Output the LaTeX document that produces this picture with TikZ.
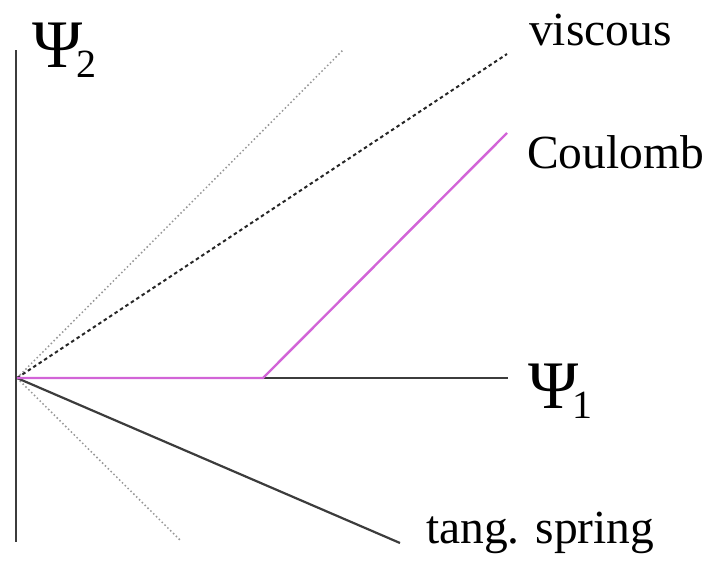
\documentclass[tikz,border=0pt]{standalone}
\usepackage{fontspec}
\setmainfont{Liberation Serif}
\definecolor{coul}{RGB}{210,100,215}
\definecolor{axisgray}{RGB}{60,60,60}
\definecolor{dotgray}{RGB}{150,150,150}
\tikzset{
  axisline/.style={draw=axisgray, line width=2.2pt},
  coulline/.style={draw=coul, line width=2.4pt},
  viscline/.style={draw=black!85, line width=2pt, dash pattern=on 3.5pt off 3pt},
  faintline/.style={draw=dotgray, line width=1.5pt, dash pattern=on 1.5pt off 2.5pt},
  lbl/.style={inner sep=0pt, anchor=base west, font=\fontsize{47.5}{47.5}\selectfont},
  psilbl/.style={inner sep=0pt, anchor=base west, font=\fontsize{68}{68}\selectfont},
}
\newcommand{\psisub}[1]{Ψ\kern-6pt\raisebox{-10pt}{\fontsize{40}{40}\selectfont #1}}
\begin{document}
\begin{tikzpicture}[x=1pt, y=-1pt]
\useasboundingbox (0,0) rectangle (715,560);
\coordinate (O) at (17,378);
\coordinate (ytop) at (16,50);
\coordinate (ybot) at (16,542);
\coordinate (xend) at (508,378);
\coordinate (kink) at (263,378);
\coordinate (cend) at (507,133);
\coordinate (vend) at (507,54);
\coordinate (fup) at (343,50);
\coordinate (fdown) at (180,540);
\coordinate (tend) at (400,543);
\draw[faintline] (O) -- (fup);
\draw[faintline] (O) -- (fdown);
\draw[viscline] (O) -- (vend);
\draw[axisline] (ytop) -- (ybot);
\draw[axisline] (O) -- (xend);
\draw[axisline] (O) -- (tend);
\draw[coulline] (O) -- (kink) -- (cend);
\node[psilbl] (psi2) at (32,67) {\psisub{2}};
\node[psilbl] (psi1) at (528,408) {\psisub{1}};
\node[lbl] (visc) at (529,45) {viscous};
\node[lbl] (coulomb) at (527,168) {Coulomb};
\node[lbl] (tang) at (426,543) {tang. spring};
\end{tikzpicture}
\end{document}
